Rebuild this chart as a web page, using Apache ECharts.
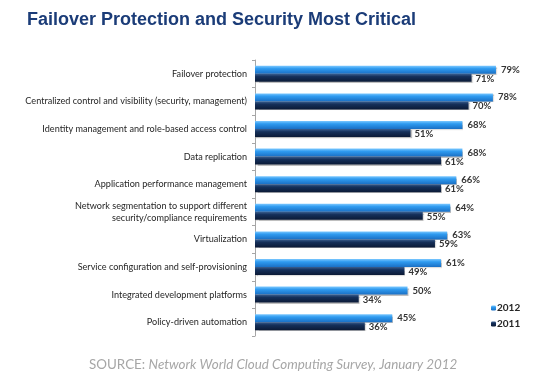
<!DOCTYPE html>
<html>
<head>
<meta charset="utf-8">
<script src="https://cdn.jsdelivr.net/npm/echarts@6/dist/echarts.min.js"></script>
<style>
  html, body { margin: 0; padding: 0; background: #fff; }
  #main { width: 558px; height: 377px; }
</style>
</head>
<body>
<div id="main"></div>
<script>
// categories, top to bottom
const categories = [
  'Failover protection',
  'Centralized control and visibility (security, management)',
  'Identity management and role-based access control',
  'Data replication',
  'Application performance management',
  'Network segmentation to support different\nsecurity/compliance requirements',
  'Virtualization',
  'Service configuration and self-provisioning',
  'Integrated development platforms',
  'Policy-driven automation'
];
const values2012 = [79, 78, 68, 68, 66, 64, 63, 61, 50, 45];
const values2011 = [71, 70, 51, 61, 61, 55, 59, 49, 34, 36];

const labelFont = 'Lato, "Open Sans", sans-serif';

const chart = echarts.init(document.getElementById('main'));
chart.setOption({
  animation: false,
  backgroundColor: '#ffffff',
  title: {
    text: 'Failover Protection and Security Most Critical',
    left: 22,
    top: 6,
    textStyle: {
      fontFamily: 'Liberation Sans, Arial, sans-serif',
      fontWeight: 'bold',
      fontSize: 18,
      color: '#1b3c78'
    }
  },
  graphic: [{
    type: 'text',
    left: 89,
    top: 358,
    style: {
      text: '{a|SOURCE: }{b|Network World Cloud Computing Survey, January 2012}',
      rich: {
        a: { fontFamily: labelFont, fontSize: 13.4, fill: '#a6a6a6' },
        b: { fontFamily: labelFont, fontSize: 13.4, fill: '#a6a6a6', fontStyle: 'italic' }
      }
    }
  }],
  legend: {
    orient: 'vertical',
    left: 486,
    top: 298,
    itemWidth: 5,
    itemHeight: 5,
    itemGap: 6,
    data: ['2012', '2011'],
    textStyle: { fontFamily: labelFont, fontSize: 10, fontWeight: 'bold', color: '#262626', padding: [0, 0, 0, -4] }
  },
  grid: { left: 255, top: 60, width: 244, height: 276, containLabel: false },
  xAxis: {
    type: 'value',
    min: 0,
    max: 80,
    show: false
  },
  yAxis: {
    type: 'category',
    inverse: true,
    data: categories,
    axisLine: { show: true, lineStyle: { color: '#a6a6a6', width: 1 } },
    axisTick: { show: true, length: 3, lineStyle: { color: '#a6a6a6' } },
    axisLabel: {
      margin: 8,
      fontFamily: labelFont,
      fontSize: 9.1,
      color: '#262626',
      lineHeight: 12,
      align: 'right'
    }
  },
  series: [
    {
      name: '2012',
      type: 'bar',
      data: values2012,
      barWidth: 8,
      barGap: '0%',
      itemStyle: {
        color: new echarts.graphic.LinearGradient(0, 0, 0, 1, [
          { offset: 0, color: '#7cc8ff' },
          { offset: 0.35, color: '#2f9bf0' },
          { offset: 1, color: '#1a6fc4' }
        ]),
        shadowColor: 'rgba(0,0,0,0.25)',
        shadowOffsetX: 1,
        shadowOffsetY: 1,
        shadowBlur: 1
      },
      label: {
        show: true,
        position: 'right',
        distance: 5,
        formatter: '{c}%',
        fontFamily: labelFont,
        fontSize: 9.5,
        fontWeight: 'bold',
        color: '#333'
      }
    },
    {
      name: '2011',
      type: 'bar',
      data: values2011,
      barWidth: 8,
      itemStyle: {
        color: new echarts.graphic.LinearGradient(0, 0, 0, 1, [
          { offset: 0, color: '#3b5f8f' },
          { offset: 0.35, color: '#15305a' },
          { offset: 1, color: '#0b1a36' }
        ]),
        shadowColor: 'rgba(0,0,0,0.25)',
        shadowOffsetX: 1,
        shadowOffsetY: 1,
        shadowBlur: 1
      },
      label: {
        show: true,
        position: 'right',
        distance: 4,
        offset: [0, 1],
        formatter: '{c}%',
        fontFamily: labelFont,
        fontSize: 9.5,
        fontWeight: 'bold',
        color: '#333'
      }
    }
  ]
});
</script>
</body>
</html>
